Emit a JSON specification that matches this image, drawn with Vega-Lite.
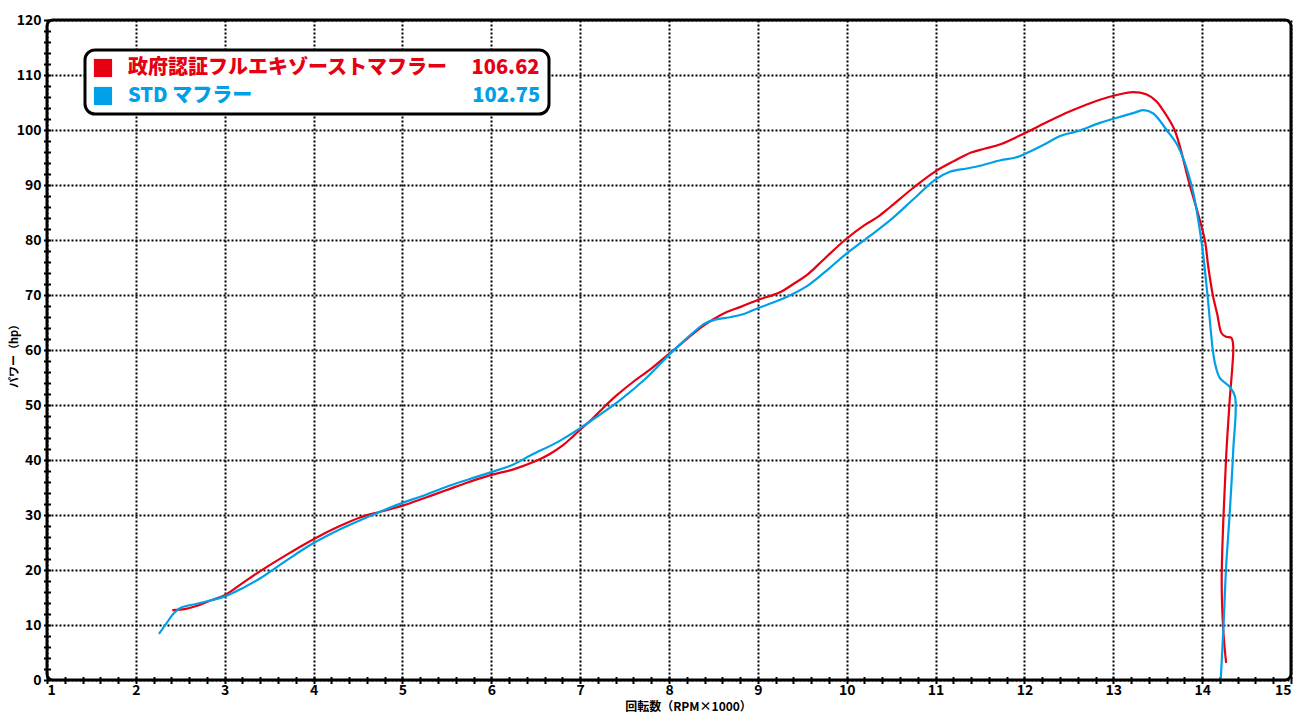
{
  "$schema": "https://vega.github.io/schema/vega-lite/v6.json",
  "autosize": "none",
  "width": 1244,
  "height": 660,
  "padding": {"left": 47, "top": 20, "right": 21, "bottom": 41},
  "background": "white",
  "config": {
    "font": "Noto Sans CJK JP",
    "view": {"stroke": "black", "strokeWidth": 3, "cornerRadius": 6},
    "axis": {"labelFont": "Noto Sans CJK JP", "labelFontWeight": "bold", "labelColor": "black", "titleFont": "Noto Sans CJK JP", "titleFontWeight": "bold", "titleColor": "black"}
  },
  "data": {"values": [
    {"s":"政府認証フルエキゾーストマフラー","i":1,"rpm":2.41,"hp":12.7},
    {"s":"政府認証フルエキゾーストマフラー","i":2,"rpm":2.55,"hp":12.9},
    {"s":"政府認証フルエキゾーストマフラー","i":3,"rpm":2.67,"hp":13.4},
    {"s":"政府認証フルエキゾーストマフラー","i":4,"rpm":2.85,"hp":14.5},
    {"s":"政府認証フルエキゾーストマフラー","i":5,"rpm":3.0,"hp":15.4},
    {"s":"政府認証フルエキゾーストマフラー","i":6,"rpm":3.2,"hp":17.6},
    {"s":"政府認証フルエキゾーストマフラー","i":7,"rpm":3.4,"hp":19.8},
    {"s":"政府認証フルエキゾーストマフラー","i":8,"rpm":3.7,"hp":22.8},
    {"s":"政府認証フルエキゾーストマフラー","i":9,"rpm":4.0,"hp":25.6},
    {"s":"政府認証フルエキゾーストマフラー","i":10,"rpm":4.27,"hp":27.8},
    {"s":"政府認証フルエキゾーストマフラー","i":11,"rpm":4.53,"hp":29.6},
    {"s":"政府認証フルエキゾーストマフラー","i":12,"rpm":4.75,"hp":30.6},
    {"s":"政府認証フルエキゾーストマフラー","i":13,"rpm":5.0,"hp":31.7},
    {"s":"政府認証フルエキゾーストマフラー","i":14,"rpm":5.25,"hp":33.1},
    {"s":"政府認証フルエキゾーストマフラー","i":15,"rpm":5.49,"hp":34.5},
    {"s":"政府認証フルエキゾーストマフラー","i":16,"rpm":5.75,"hp":36.0},
    {"s":"政府認証フルエキゾーストマフラー","i":17,"rpm":6.0,"hp":37.3},
    {"s":"政府認証フルエキゾーストマフラー","i":18,"rpm":6.25,"hp":38.3},
    {"s":"政府認証フルエキゾーストマフラー","i":19,"rpm":6.5,"hp":39.8},
    {"s":"政府認証フルエキゾーストマフラー","i":20,"rpm":6.65,"hp":41.0},
    {"s":"政府認証フルエキゾーストマフラー","i":21,"rpm":6.8,"hp":42.6},
    {"s":"政府認証フルエキゾーストマフラー","i":22,"rpm":6.92,"hp":44.3},
    {"s":"政府認証フルエキゾーストマフラー","i":23,"rpm":7.0,"hp":45.5},
    {"s":"政府認証フルエキゾーストマフラー","i":24,"rpm":7.12,"hp":47.2},
    {"s":"政府認証フルエキゾーストマフラー","i":25,"rpm":7.23,"hp":49.0},
    {"s":"政府認証フルエキゾーストマフラー","i":26,"rpm":7.4,"hp":51.6},
    {"s":"政府認証フルエキゾーストマフラー","i":27,"rpm":7.62,"hp":54.5},
    {"s":"政府認証フルエキゾーストマフラー","i":28,"rpm":7.8,"hp":56.6},
    {"s":"政府認証フルエキゾーストマフラー","i":29,"rpm":8.0,"hp":59.3},
    {"s":"政府認証フルエキゾーストマフラー","i":30,"rpm":8.18,"hp":61.7},
    {"s":"政府認証フルエキゾーストマフラー","i":31,"rpm":8.35,"hp":64.0},
    {"s":"政府認証フルエキゾーストマフラー","i":32,"rpm":8.5,"hp":65.6},
    {"s":"政府認証フルエキゾーストマフラー","i":33,"rpm":8.65,"hp":66.9},
    {"s":"政府認証フルエキゾーストマフラー","i":34,"rpm":8.8,"hp":67.8},
    {"s":"政府認証フルエキゾーストマフラー","i":35,"rpm":9.0,"hp":69.1},
    {"s":"政府認証フルエキゾーストマフラー","i":36,"rpm":9.25,"hp":70.5},
    {"s":"政府認証フルエキゾーストマフラー","i":37,"rpm":9.4,"hp":72.0},
    {"s":"政府認証フルエキゾーストマフラー","i":38,"rpm":9.55,"hp":73.6},
    {"s":"政府認証フルエキゾーストマフラー","i":39,"rpm":9.75,"hp":76.6},
    {"s":"政府認証フルエキゾーストマフラー","i":40,"rpm":9.98,"hp":80.0},
    {"s":"政府認証フルエキゾーストマフラー","i":41,"rpm":10.2,"hp":82.7},
    {"s":"政府認証フルエキゾーストマフラー","i":42,"rpm":10.35,"hp":84.2},
    {"s":"政府認証フルエキゾーストマフラー","i":43,"rpm":10.49,"hp":86.0},
    {"s":"政府認証フルエキゾーストマフラー","i":44,"rpm":10.75,"hp":89.5},
    {"s":"政府認証フルエキゾーストマフラー","i":45,"rpm":10.99,"hp":92.4},
    {"s":"政府認証フルエキゾーストマフラー","i":46,"rpm":11.2,"hp":94.3},
    {"s":"政府認証フルエキゾーストマフラー","i":47,"rpm":11.4,"hp":95.9},
    {"s":"政府認証フルエキゾーストマフラー","i":48,"rpm":11.55,"hp":96.6},
    {"s":"政府認証フルエキゾーストマフラー","i":49,"rpm":11.73,"hp":97.4},
    {"s":"政府認証フルエキゾーストマフラー","i":50,"rpm":12.0,"hp":99.4},
    {"s":"政府認証フルエキゾーストマフラー","i":51,"rpm":12.25,"hp":101.4},
    {"s":"政府認証フルエキゾーストマフラー","i":52,"rpm":12.5,"hp":103.3},
    {"s":"政府認証フルエキゾーストマフラー","i":53,"rpm":12.85,"hp":105.5},
    {"s":"政府認証フルエキゾーストマフラー","i":54,"rpm":13.05,"hp":106.4},
    {"s":"政府認証フルエキゾーストマフラー","i":55,"rpm":13.22,"hp":106.9},
    {"s":"政府認証フルエキゾーストマフラー","i":56,"rpm":13.37,"hp":106.5},
    {"s":"政府認証フルエキゾーストマフラー","i":57,"rpm":13.48,"hp":105.3},
    {"s":"政府認証フルエキゾーストマフラー","i":58,"rpm":13.56,"hp":103.6},
    {"s":"政府認証フルエキゾーストマフラー","i":59,"rpm":13.69,"hp":100.0},
    {"s":"政府認証フルエキゾーストマフラー","i":60,"rpm":13.86,"hp":90.0},
    {"s":"政府認証フルエキゾーストマフラー","i":61,"rpm":13.95,"hp":85.0},
    {"s":"政府認証フルエキゾーストマフラー","i":62,"rpm":14.03,"hp":80.0},
    {"s":"政府認証フルエキゾーストマフラー","i":63,"rpm":14.07,"hp":75.0},
    {"s":"政府認証フルエキゾーストマフラー","i":64,"rpm":14.12,"hp":70.0},
    {"s":"政府認証フルエキゾーストマフラー","i":65,"rpm":14.17,"hp":66.5},
    {"s":"政府認証フルエキゾーストマフラー","i":66,"rpm":14.22,"hp":63.0},
    {"s":"政府認証フルエキゾーストマフラー","i":67,"rpm":14.27,"hp":62.4},
    {"s":"政府認証フルエキゾーストマフラー","i":68,"rpm":14.33,"hp":62.2},
    {"s":"政府認証フルエキゾーストマフラー","i":69,"rpm":14.35,"hp":60.5},
    {"s":"政府認証フルエキゾーストマフラー","i":70,"rpm":14.34,"hp":57.0},
    {"s":"政府認証フルエキゾーストマフラー","i":71,"rpm":14.31,"hp":50.9},
    {"s":"政府認証フルエキゾーストマフラー","i":72,"rpm":14.27,"hp":40.6},
    {"s":"政府認証フルエキゾーストマフラー","i":73,"rpm":14.24,"hp":29.7},
    {"s":"政府認証フルエキゾーストマフラー","i":74,"rpm":14.22,"hp":17.6},
    {"s":"政府認証フルエキゾーストマフラー","i":75,"rpm":14.24,"hp":8.5},
    {"s":"政府認証フルエキゾーストマフラー","i":76,"rpm":14.27,"hp":3.1},
    {"s":"STD マフラー","i":1,"rpm":2.26,"hp":8.4},
    {"s":"STD マフラー","i":2,"rpm":2.34,"hp":10.2},
    {"s":"STD マフラー","i":3,"rpm":2.42,"hp":12.0},
    {"s":"STD マフラー","i":4,"rpm":2.5,"hp":13.1},
    {"s":"STD マフラー","i":5,"rpm":2.7,"hp":13.9},
    {"s":"STD マフラー","i":6,"rpm":3.0,"hp":15.2},
    {"s":"STD マフラー","i":7,"rpm":3.2,"hp":16.7},
    {"s":"STD マフラー","i":8,"rpm":3.4,"hp":18.5},
    {"s":"STD マフラー","i":9,"rpm":3.7,"hp":21.8},
    {"s":"STD マフラー","i":10,"rpm":4.0,"hp":24.9},
    {"s":"STD マフラー","i":11,"rpm":4.27,"hp":27.2},
    {"s":"STD マフラー","i":12,"rpm":4.53,"hp":29.1},
    {"s":"STD マフラー","i":13,"rpm":4.75,"hp":30.6},
    {"s":"STD マフラー","i":14,"rpm":5.0,"hp":32.2},
    {"s":"STD マフラー","i":15,"rpm":5.25,"hp":33.6},
    {"s":"STD マフラー","i":16,"rpm":5.49,"hp":35.1},
    {"s":"STD マフラー","i":17,"rpm":5.75,"hp":36.5},
    {"s":"STD マフラー","i":18,"rpm":6.0,"hp":37.8},
    {"s":"STD マフラー","i":19,"rpm":6.25,"hp":39.2},
    {"s":"STD マフラー","i":20,"rpm":6.45,"hp":40.9},
    {"s":"STD マフラー","i":21,"rpm":6.75,"hp":43.3},
    {"s":"STD マフラー","i":22,"rpm":7.0,"hp":45.8},
    {"s":"STD マフラー","i":23,"rpm":7.2,"hp":48.0},
    {"s":"STD マフラー","i":24,"rpm":7.45,"hp":50.9},
    {"s":"STD マフラー","i":25,"rpm":7.75,"hp":55.0},
    {"s":"STD マフラー","i":26,"rpm":8.0,"hp":59.1},
    {"s":"STD マフラー","i":27,"rpm":8.24,"hp":62.7},
    {"s":"STD マフラー","i":28,"rpm":8.4,"hp":64.8},
    {"s":"STD マフラー","i":29,"rpm":8.52,"hp":65.5},
    {"s":"STD マフラー","i":30,"rpm":8.7,"hp":66.0},
    {"s":"STD マフラー","i":31,"rpm":8.85,"hp":66.6},
    {"s":"STD マフラー","i":32,"rpm":9.0,"hp":67.6},
    {"s":"STD マフラー","i":33,"rpm":9.2,"hp":68.8},
    {"s":"STD マフラー","i":34,"rpm":9.37,"hp":70.0},
    {"s":"STD マフラー","i":35,"rpm":9.57,"hp":71.8},
    {"s":"STD マフラー","i":36,"rpm":9.8,"hp":74.8},
    {"s":"STD マフラー","i":37,"rpm":9.98,"hp":77.3},
    {"s":"STD マフラー","i":38,"rpm":10.25,"hp":80.6},
    {"s":"STD マフラー","i":39,"rpm":10.49,"hp":83.6},
    {"s":"STD マフラー","i":40,"rpm":10.75,"hp":87.4},
    {"s":"STD マフラー","i":41,"rpm":10.99,"hp":90.9},
    {"s":"STD マフラー","i":42,"rpm":11.16,"hp":92.4},
    {"s":"STD マフラー","i":43,"rpm":11.35,"hp":93.0},
    {"s":"STD マフラー","i":44,"rpm":11.5,"hp":93.5},
    {"s":"STD マフラー","i":45,"rpm":11.73,"hp":94.5},
    {"s":"STD マフラー","i":46,"rpm":11.9,"hp":95.0},
    {"s":"STD マフラー","i":47,"rpm":12.05,"hp":96.0},
    {"s":"STD マフラー","i":48,"rpm":12.25,"hp":97.6},
    {"s":"STD マフラー","i":49,"rpm":12.4,"hp":98.9},
    {"s":"STD マフラー","i":50,"rpm":12.6,"hp":99.8},
    {"s":"STD マフラー","i":51,"rpm":12.85,"hp":101.3},
    {"s":"STD マフラー","i":52,"rpm":13.08,"hp":102.4},
    {"s":"STD マフラー","i":53,"rpm":13.25,"hp":103.2},
    {"s":"STD マフラー","i":54,"rpm":13.34,"hp":103.6},
    {"s":"STD マフラー","i":55,"rpm":13.45,"hp":103.0},
    {"s":"STD マフラー","i":56,"rpm":13.6,"hp":100.0},
    {"s":"STD マフラー","i":57,"rpm":13.73,"hp":97.0},
    {"s":"STD マフラー","i":58,"rpm":13.88,"hp":90.0},
    {"s":"STD マフラー","i":59,"rpm":13.99,"hp":80.0},
    {"s":"STD マフラー","i":60,"rpm":14.06,"hp":70.0},
    {"s":"STD マフラー","i":61,"rpm":14.12,"hp":60.0},
    {"s":"STD マフラー","i":62,"rpm":14.15,"hp":57.2},
    {"s":"STD マフラー","i":63,"rpm":14.2,"hp":54.9},
    {"s":"STD マフラー","i":64,"rpm":14.31,"hp":53.3},
    {"s":"STD マフラー","i":65,"rpm":14.37,"hp":51.5},
    {"s":"STD マフラー","i":66,"rpm":14.35,"hp":41.8},
    {"s":"STD マフラー","i":67,"rpm":14.31,"hp":30.3},
    {"s":"STD マフラー","i":68,"rpm":14.27,"hp":20.6},
    {"s":"STD マフラー","i":69,"rpm":14.24,"hp":9.7},
    {"s":"STD マフラー","i":70,"rpm":14.21,"hp":0.3}
  ]},
  "resolve": {"axis": {"x": "independent", "y": "independent"}, "scale": {"x": "shared", "y": "shared"}},
  "layer": [
    {
      "mark": {"type": "point", "opacity": 0},
      "encoding": {
        "x": {"field": "rpm", "type": "quantitative", "scale": {"domain": [1, 15], "nice": false, "zero": false},
          "axis": {"orient": "bottom", "values": [1,1.2,1.4,1.6,1.8,2,2.2,2.4,2.6,2.8,3,3.2,3.4,3.6,3.8,4,4.2,4.4,4.6,4.8,5,5.2,5.4,5.6,5.8,6,6.2,6.4,6.6,6.8,7,7.2,7.4,7.6,7.8,8,8.2,8.4,8.6,8.8,9,9.2,9.4,9.6,9.8,10,10.2,10.4,10.6,10.8,11,11.2,11.4,11.6,11.8,12,12.2,12.4,12.6,12.8,13,13.2,13.4,13.6,13.8,14,14.2,14.4,14.6,14.8,15],
            "labels": false, "domain": false, "grid": false, "title": null, "ticks": true, "tickSize": 7, "offset": -3.5, "tickWidth": 2, "tickColor": "black"}},
        "y": {"field": "hp", "type": "quantitative", "scale": {"domain": [0, 120], "nice": false},
          "axis": {"orient": "left", "values": [0,2,4,6,8,10,12,14,16,18,20,22,24,26,28,30,32,34,36,38,40,42,44,46,48,50,52,54,56,58,60,62,64,66,68,70,72,74,76,78,80,82,84,86,88,90,92,94,96,98,100,102,104,106,108,110,112,114,116,118,120],
            "labels": false, "domain": false, "grid": false, "title": null, "ticks": true, "tickSize": 7, "offset": -3.5, "tickWidth": 2, "tickColor": "black"}}
      }
    },
    {
      "mark": {"type": "line", "strokeWidth": 2.2, "interpolate": "catmull-rom"},
      "encoding": {
        "x": {"field": "rpm", "type": "quantitative", "scale": {"domain": [1, 15], "nice": false, "zero": false},
          "axis": {"orient": "bottom", "values": [1,2,3,4,5,6,7,8,9,10,11,12,13,14,15], "domain": false, "ticks": false, "labelFontSize": 14, "labelPadding": 3, "grid": true, "gridColor": "black", "gridDash": [2, 2], "gridWidth": 2, "gridOpacity": 1,
            "title": "回転数（RPM×1000）", "titleFontSize": 12, "titleX": 641, "titleY": 26, "titleBaseline": "middle", "titleAlign": "center"}},
        "y": {"field": "hp", "type": "quantitative", "scale": {"domain": [0, 120], "nice": false},
          "axis": {"orient": "left", "values": [0,10,20,30,40,50,60,70,80,90,100,110,120], "domain": false, "ticks": false, "labelFontSize": 14, "labelPadding": 6, "grid": true, "gridColor": "black", "gridDash": [2, 2], "gridWidth": 2, "gridOpacity": 1,
            "title": "パワー（hp）", "titleFontSize": 11, "titleX": -33, "titleY": 333, "titleBaseline": "middle", "titleAlign": "center", "titleAngle": -90}},
        "order": {"field": "i", "type": "quantitative"},
        "color": {"field": "s", "type": "nominal",
          "scale": {"domain": ["政府認証フルエキゾーストマフラー", "STD マフラー"], "range": ["#e60012", "#00a0e9"]},
          "legend": {"orient": "none", "legendX": 38, "legendY": 30, "title": null,
            "strokeColor": "black", "cornerRadius": 10, "fillColor": "white", "padding": 8,
            "symbolType": "square", "symbolSize": 330, "symbolStrokeWidth": 0, "symbolOpacity": 1, "labelOffset": 15, "rowPadding": 8,
            "labelFont": "Noto Sans CJK JP", "labelFontSize": 20, "labelFontWeight": 900, "labelLimit": 700,
            "labelExpr": "datum.label == 'STD マフラー' ? 'STD マフラー　　　　　　　　　　　102.75' : datum.label + '　 106.62'",
            "encode": {
              "legend": {"update": {"strokeWidth": {"value": 3}}},
              "labels": {"update": {"fill": {"signal": "datum.value == 'STD マフラー' ? '#00a0e9' : '#e60012'"}}},
              "symbols": {"update": {"fill": {"signal": "datum.value == 'STD マフラー' ? '#00a0e9' : '#e60012'"}, "stroke": {"value": "transparent"}, "opacity": {"value": 1}}}
            }}}
      }
    }
  ]
}
